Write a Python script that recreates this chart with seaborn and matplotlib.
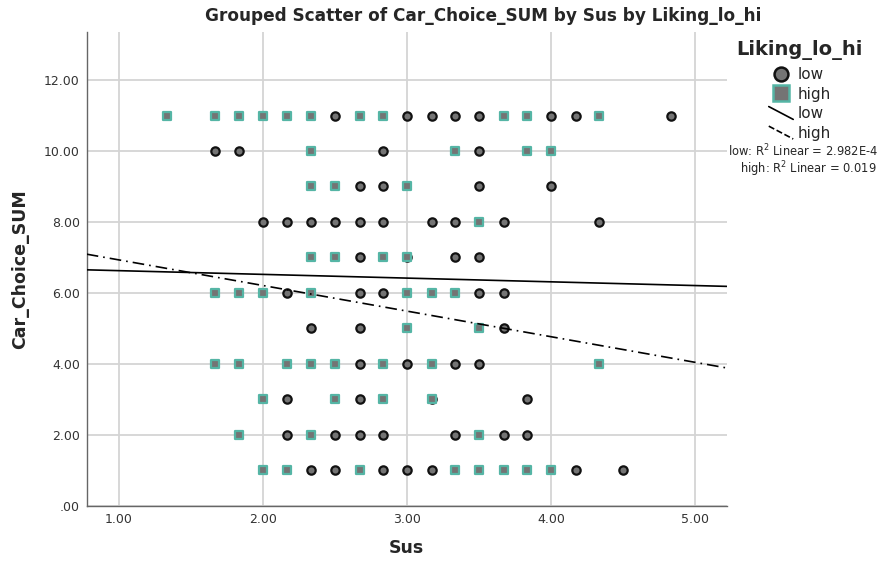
import matplotlib
matplotlib.use("Agg")
import matplotlib.pyplot as plt
from matplotlib.lines import Line2D
from matplotlib.legend_handler import HandlerBase
from matplotlib.ticker import FuncFormatter
import pandas as pd
import seaborn as sns

# points by group: (Sus, Car_Choice_SUM)
low_sus = [2.5, 3.0, 3.17, 3.33, 3.5, 4.0, 4.17, 4.83,
           1.67, 1.83, 2.83, 3.5,
           2.67, 2.83, 3.5, 4.0,
           2.0, 2.17, 2.33, 2.5, 2.67, 2.83, 3.17, 3.33, 3.67, 4.33,
           2.67, 3.0, 3.33, 3.5,
           2.17, 2.67, 2.83, 3.5, 3.67,
           2.33, 2.67, 3.67,
           2.67, 3.0, 3.33, 3.5,
           2.17, 2.67, 3.17, 3.83,
           2.17, 2.5, 2.67, 2.83, 3.33, 3.67, 3.83,
           2.33, 2.5, 2.83, 3.0, 3.17, 4.17, 4.5]
low_car = [11] * 8 + [10] * 4 + [9] * 4 + [8] * 10 + [7] * 4 + [6] * 5 + \
          [5] * 3 + [4] * 4 + [3] * 4 + [2] * 7 + [1] * 7

high_sus = [1.33, 1.67, 1.83, 2.0, 2.17, 2.33, 2.67, 2.83, 3.67, 3.83, 4.33,
            2.33, 3.33, 3.83, 4.0,
            2.33, 2.5, 3.0,
            3.5,
            2.33, 2.5, 2.83, 3.0,
            1.67, 1.83, 2.0, 2.33, 3.0, 3.17, 3.33,
            3.0, 3.5,
            1.67, 1.83, 2.17, 2.33, 2.5, 2.83, 3.17, 4.33,
            2.0, 2.5, 2.83, 3.17,
            1.83, 2.33, 3.5,
            2.0, 2.17, 2.67, 3.33, 3.5, 3.67, 3.83, 4.0]
high_car = [11] * 11 + [10] * 4 + [9] * 3 + [8] * 1 + [7] * 4 + [6] * 7 + \
           [5] * 2 + [4] * 8 + [3] * 4 + [2] * 3 + [1] * 8

# linear fit lines (intercept, slope)
fit_low = (6.73, -0.105)
fit_high = (7.65, -0.722)
r2_labels = ["low: R$^2$ Linear = 2.982E-4", "high: R$^2$ Linear = 0.019"]

low = pd.DataFrame({"Sus": low_sus, "Car_Choice_SUM": low_car})
high = pd.DataFrame({"Sus": high_sus, "Car_Choice_SUM": high_car})

sns.set_style("white")
plt.rcParams["font.family"] = ["DejaVu Sans"]

teal = "#55b5a5"
grey_fill = "#747474"


class DiagHandler(HandlerBase):
    # legend line drawn as a descending diagonal, like SPSS does
    def create_artists(self, legend, orig_handle, xdescent, ydescent,
                       width, height, fontsize, trans):
        x0, y0 = -xdescent, -ydescent
        line = Line2D([x0, x0 + width], [y0 + height * 1.1, y0 - height * 0.1],
                      color=orig_handle.get_color(),
                      linestyle=orig_handle.get_linestyle(),
                      linewidth=orig_handle.get_linewidth())
        line.set_transform(trans)
        return [line]


fig = plt.figure(figsize=(8.85, 5.63), dpi=100)
ax = fig.add_axes([0.098, 0.102, 0.7232, 0.8408])

sns.scatterplot(data=low, x="Sus", y="Car_Choice_SUM", ax=ax, marker="o",
                s=36, color=grey_fill, edgecolor="#111111", linewidth=1.6, zorder=3)
sns.scatterplot(data=high, x="Sus", y="Car_Choice_SUM", ax=ax, marker="s",
                s=40, color=grey_fill, edgecolor=teal, linewidth=1.6, zorder=4)

ax.axline((0, fit_low[0]), slope=fit_low[1], color="black", lw=1.2, zorder=5)
ax.axline((0, fit_high[0]), slope=fit_high[1], color="black", lw=1.2,
          linestyle=(0, (7, 3, 1, 3)), zorder=5)

ax.set_xlim(0.776, 5.22)
ax.set_ylim(0, 13.35)
ax.set_xticks([1, 2, 3, 4, 5])
ax.set_yticks([0, 2, 4, 6, 8, 10, 12])
fmt = FuncFormatter(lambda v, p: f"{v:.2f}".lstrip("0") if v < 1 else f"{v:.2f}")
ax.xaxis.set_major_formatter(fmt)
ax.yaxis.set_major_formatter(fmt)
ax.tick_params(axis="both", length=0, labelsize=9, colors="#333333", pad=5)
ax.grid(True, color="#d4d4d4", lw=1.3, zorder=0)
ax.set_axisbelow(True)
for side in ["top", "right"]:
    ax.spines[side].set_visible(False)
for side in ["left", "bottom"]:
    ax.spines[side].set_color("#666666")
    ax.spines[side].set_linewidth(1.0)

ax.set_xlabel("Sus", fontsize=12.5, fontweight="bold", labelpad=10)
ax.set_ylabel("Car_Choice_SUM", fontsize=12.5, fontweight="bold", labelpad=11)
fig.text(0.546, 0.971, "Grouped Scatter of Car_Choice_SUM by Sus by Liking_lo_hi",
         ha="center", va="center", fontsize=12.2, fontweight="bold")

handles = [
    Line2D([], [], marker="o", linestyle="none", markersize=10,
           markerfacecolor=grey_fill, markeredgecolor="#111111", markeredgewidth=1.8),
    Line2D([], [], marker="s", linestyle="none", markersize=11,
           markerfacecolor=grey_fill, markeredgecolor=teal, markeredgewidth=1.8),
    Line2D([], [], color="black", lw=1.2),
    Line2D([], [], color="black", lw=1.2, linestyle=(0, (7, 3, 1, 3))),
]
leg = ax.legend(handles, ["low", "high", "low", "high"], title="Liking_lo_hi",
                loc="upper left", bbox_to_anchor=(0.829, 0.934),
                bbox_transform=fig.transFigure, frameon=False, fontsize=11,
                title_fontproperties={"weight": "bold", "size": 14},
                handlelength=1.6, handletextpad=0.3, labelspacing=0.3,
                borderpad=0.2, borderaxespad=0,
                handler_map={handles[2]: DiagHandler(), handles[3]: DiagHandler()})
leg._legend_box.sep = 5
fig.text(0.907, 0.731, r2_labels[0], ha="center", va="center", fontsize=8.3)
fig.text(0.913, 0.700, r2_labels[1], ha="center", va="center", fontsize=8.3)

fig.savefig("out.png", dpi=100)
